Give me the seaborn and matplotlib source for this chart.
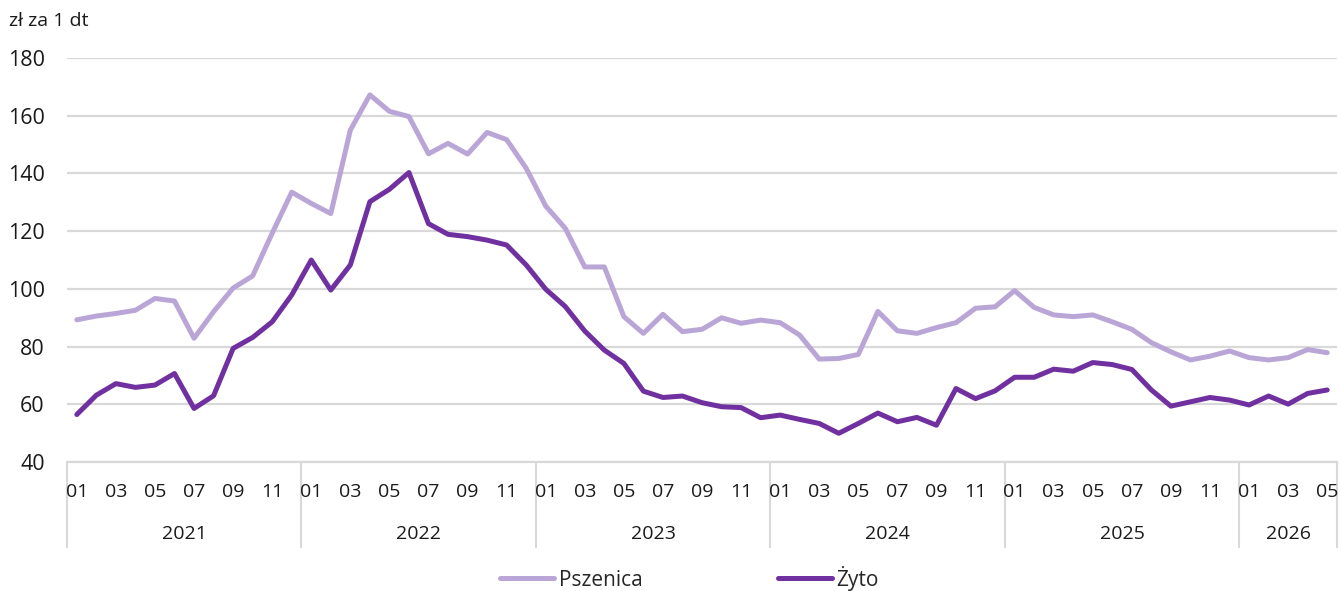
import numpy as np
import pandas as pd
import matplotlib
matplotlib.use("Agg")
import matplotlib.pyplot as plt
import seaborn as sns

# ---------------------------------------------------------
# DATA (monthly prices, zl per 1 dt, 2021-01 .. 2026-05)
# ---------------------------------------------------------
years = [2021, 2022, 2023, 2024, 2025, 2026]
months_per_year = [12, 12, 12, 12, 12, 5]

pszenica = [
    89.3, 90.6, 91.5, 92.6, 96.7, 95.8, 82.9, 92.1, 100.3, 104.5, 119.3, 133.5,
    129.6, 126.1, 155.0, 167.2, 161.5, 159.7, 146.8, 150.4, 146.7, 154.2, 151.7, 141.8,
    128.7, 121.0, 107.6, 107.6, 90.4, 84.6, 91.2, 85.2, 86.0, 90.0, 88.1, 89.2,
    88.3, 84.0, 75.7, 75.9, 77.3, 92.2, 85.5, 84.6, 86.6, 88.3, 93.3, 93.8,
    99.4, 93.6, 91.0, 90.4, 91.0, 88.6, 86.0, 81.4, 78.2, 75.4, 76.7, 78.5,
    76.2, 75.4, 76.2, 79.0, 77.9,
]
zyto = [
    56.5, 63.2, 67.2, 65.9, 66.7, 70.7, 58.6, 63.0, 79.4, 83.2, 88.6, 97.9,
    110.0, 99.6, 108.3, 130.2, 134.5, 140.3, 122.6, 118.9, 118.1, 116.9, 115.2, 108.3,
    99.9, 93.9, 85.4, 78.8, 74.2, 64.6, 62.4, 62.9, 60.6, 59.2, 58.9, 55.4,
    56.3, 54.8, 53.4, 50.0, 53.4, 57.0, 54.0, 55.5, 52.8, 65.5, 62.0, 64.7,
    69.4, 69.4, 72.2, 71.5, 74.5, 73.8, 72.1, 65.0, 59.4, 60.9, 62.4, 61.5,
    59.8, 62.9, 60.1, 63.8, 65.0,
]
month_labels = [f"{m:02d}" for y, n in zip(years, months_per_year) for m in range(1, n + 1)]

series_names = ["Pszenica", "Żyto"]
colors = ["#B9A6D6", "#7030A0"]

# ---------------------------------------------------------
# BUILD TABLE
# ---------------------------------------------------------
idx = np.arange(len(month_labels))
df = pd.DataFrame({
    "idx": np.concatenate([idx, idx]),
    "value": pszenica + zyto,
    "series": [series_names[0]] * len(idx) + [series_names[1]] * len(idx),
})

sns.set_style("white")
plt.rcParams["font.family"] = ["Open Sans", "DejaVu Sans"]

fig = plt.figure(figsize=(13.41, 5.91), dpi=100)
ax = fig.add_axes([0.05, 0.218, 0.947, 0.684])

grid_col = "#D9D9D9"
txt_col = "#1a1a1a"
ax.set_ylim(40, 180)
ax.set_yticks(np.arange(40, 181, 20))
ax.yaxis.grid(True, color=grid_col, linewidth=1.6)
ax.set_axisbelow(True)

sns.lineplot(data=df, x="idx", y="value", hue="series", palette=colors,
             linewidth=3.6, ax=ax, legend=True)

ax.set_xlim(-0.5, len(idx) - 0.5)
ax.set_xlabel("")
ax.set_ylabel("")
for s in ["top", "right", "left"]:
    ax.spines[s].set_visible(False)
ax.spines["bottom"].set_color(grid_col)
ax.spines["bottom"].set_linewidth(1.6)

ax.tick_params(axis="y", length=0, labelsize=15.5, pad=16, labelcolor=txt_col)

# month labels (odd months) and cell boundaries
lab_pos = [i for i in idx if int(month_labels[i]) % 2 == 1]
ax.set_xticks(lab_pos)
ax.set_xticklabels([month_labels[i] for i in lab_pos])
ax.set_xticks(np.arange(len(idx) + 1) - 0.5, minor=True)
ax.tick_params(axis="x", which="major", length=0, labelsize=14, pad=15, labelcolor=txt_col)
ax.tick_params(axis="x", which="minor", length=31, width=1.5, color=grid_col)

# year separators and labels
starts = np.concatenate([[0], np.cumsum(months_per_year)]) - 0.5
sec = ax.secondary_xaxis("bottom")
sec.spines["bottom"].set_visible(False)
sec.set_xticks(starts)
sec.set_xticklabels([])
sec.set_xticks((starts[:-1] + starts[1:]) / 2, minor=True)
sec.set_xticklabels([str(y) for y in years], minor=True)
sec.tick_params(axis="x", which="major", length=62, width=1.5, color=grid_col)
sec.tick_params(axis="x", which="minor", length=0, labelsize=14, pad=45, labelcolor=txt_col)

fig.text(0.007, 0.965, "zł za 1 dt", fontsize=14, color=txt_col, va="center", ha="left")

ax.legend(loc="center", bbox_to_anchor=(0.49, -0.287), ncol=2, frameon=False,
          fontsize=15, handlelength=2.6, handletextpad=0.2, columnspacing=6.5)

fig.savefig("out.png", dpi=100)
